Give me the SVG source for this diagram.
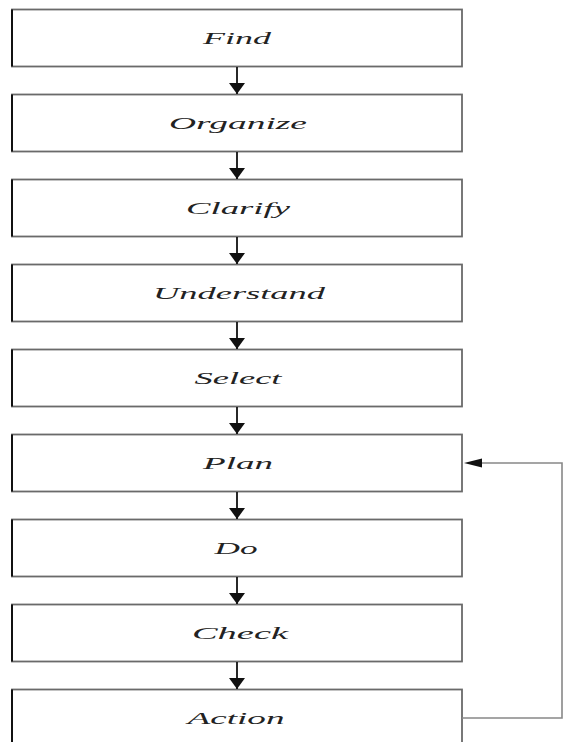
<svg xmlns="http://www.w3.org/2000/svg" width="564" height="742" viewBox="0 0 564 742">
<style>
.box{fill:#fff;stroke:#6a6a6a;stroke-width:1.8}
.lft{stroke:#111;stroke-width:2}
.lbl{font-family:"Liberation Serif",serif;font-style:italic;font-size:16.5px;fill:#222;text-anchor:middle}
.con{stroke:#111;stroke-width:1.8;fill:none}
.fb{stroke:#888;stroke-width:1.6;fill:none}
</style>
<defs>
<marker id="ah" markerWidth="11" markerHeight="16" refX="11" refY="8" orient="auto" markerUnits="userSpaceOnUse">
<path d="M0,0 L11,8 L0,16 Z" fill="#111"/>
</marker>
</defs>
<rect width="564" height="742" fill="#fff"/>
<g id="find"><rect class="box" x="12" y="9.5" width="450" height="57"/><line class="lft" x1="12" y1="9.5" x2="12" y2="66.5"/><text class="lbl" x="237" y="43.5" textLength="68" lengthAdjust="spacingAndGlyphs">Find</text></g>
<g id="organize"><rect class="box" x="12" y="94.5" width="450" height="57"/><line class="lft" x1="12" y1="94.5" x2="12" y2="151.5"/><text class="lbl" x="238" y="128.5" textLength="138" lengthAdjust="spacingAndGlyphs">Organize</text></g>
<g id="clarify"><rect class="box" x="12" y="179.5" width="450" height="57"/><line class="lft" x1="12" y1="179.5" x2="12" y2="236.5"/><text class="lbl" x="238" y="213.5" textLength="104" lengthAdjust="spacingAndGlyphs">Clarify</text></g>
<g id="understand"><rect class="box" x="12" y="264.5" width="450" height="57"/><line class="lft" x1="12" y1="264.5" x2="12" y2="321.5"/><text class="lbl" x="239" y="298.5" textLength="172" lengthAdjust="spacingAndGlyphs">Understand</text></g>
<g id="select"><rect class="box" x="12" y="349.5" width="450" height="57"/><line class="lft" x1="12" y1="349.5" x2="12" y2="406.5"/><text class="lbl" x="238" y="383.5" textLength="87" lengthAdjust="spacingAndGlyphs">Select</text></g>
<g id="plan"><rect class="box" x="12" y="434.5" width="450" height="57"/><line class="lft" x1="12" y1="434.5" x2="12" y2="491.5"/><text class="lbl" x="238" y="468.5" textLength="70" lengthAdjust="spacingAndGlyphs">Plan</text></g>
<g id="do"><rect class="box" x="12" y="519.5" width="450" height="57"/><line class="lft" x1="12" y1="519.5" x2="12" y2="576.5"/><text class="lbl" x="236" y="553.5" textLength="43" lengthAdjust="spacingAndGlyphs">Do</text></g>
<g id="check"><rect class="box" x="12" y="604.5" width="450" height="57"/><line class="lft" x1="12" y1="604.5" x2="12" y2="661.5"/><text class="lbl" x="240" y="638.5" textLength="96" lengthAdjust="spacingAndGlyphs">Check</text></g>
<g id="action"><rect class="box" x="12" y="689.5" width="450" height="57"/><line class="lft" x1="12" y1="689.5" x2="12" y2="746.5"/><text class="lbl" x="236" y="723.5" textLength="97" lengthAdjust="spacingAndGlyphs">Action</text></g>
<g id="connectors">
<line class="con" x1="237" y1="67" x2="237" y2="94" marker-end="url(#ah)"/>
<line class="con" x1="237" y1="152" x2="237" y2="179" marker-end="url(#ah)"/>
<line class="con" x1="237" y1="237" x2="237" y2="264" marker-end="url(#ah)"/>
<line class="con" x1="237" y1="322" x2="237" y2="349" marker-end="url(#ah)"/>
<line class="con" x1="237" y1="407" x2="237" y2="434" marker-end="url(#ah)"/>
<line class="con" x1="237" y1="492" x2="237" y2="519" marker-end="url(#ah)"/>
<line class="con" x1="237" y1="577" x2="237" y2="604" marker-end="url(#ah)"/>
<line class="con" x1="237" y1="662" x2="237" y2="689" marker-end="url(#ah)"/>
<path class="fb" d="M462,718 H562 V463 H480"/>
<path d="M464,463 L482,458.5 L482,467.5 Z" fill="#111"/>
</g>
</svg>
